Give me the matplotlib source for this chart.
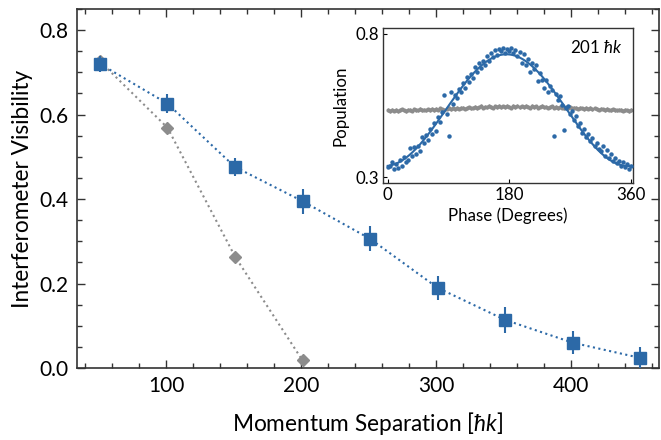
import numpy as np
import matplotlib
matplotlib.use('Agg')
import matplotlib.pyplot as plt

plt.rcParams['font.family'] = ['Lato', 'DejaVu Sans']
plt.rcParams['mathtext.fontset'] = 'custom'
plt.rcParams['mathtext.rm'] = 'Lato'
plt.rcParams['mathtext.it'] = 'Lato:italic'

blue = '#2c69a7'
grey = '#8c8c8c'

# main panel: visibility vs momentum separation
sep_blue = [51, 101, 151, 201, 251, 301, 351, 401, 451]
vis_blue = [0.720, 0.626, 0.476, 0.395, 0.306, 0.190, 0.114, 0.060, 0.024]
err_blue = [0.018, 0.022, 0.021, 0.030, 0.030, 0.028, 0.030, 0.027, 0.025]

sep_grey = [51, 101, 151, 201]
vis_grey = [0.726, 0.569, 0.264, 0.018]
err_grey = [0.012, 0.010, 0.006, 0.004]

# inset: population vs phase at 201 hbar k
phase = np.arange(0, 361, 3)
pop_blue = [0.335, 0.338, 0.352, 0.330, 0.345, 0.332, 0.360, 0.341, 0.372, 0.352,
            0.360, 0.402, 0.374, 0.405, 0.380, 0.410, 0.392, 0.440, 0.418, 0.446,
            0.430, 0.468, 0.452, 0.488, 0.462, 0.510, 0.492, 0.528, 0.586, 0.520,
            0.443, 0.598, 0.556, 0.586, 0.575, 0.608, 0.596, 0.628, 0.612, 0.648,
            0.632, 0.660, 0.645, 0.684, 0.666, 0.700, 0.680, 0.706, 0.690, 0.722,
            0.705, 0.735, 0.718, 0.745, 0.726, 0.748, 0.742, 0.752, 0.735, 0.748,
            0.741, 0.750, 0.734, 0.745, 0.722, 0.738, 0.700, 0.730, 0.690, 0.712,
            0.668, 0.700, 0.676, 0.690, 0.635, 0.662, 0.640, 0.612, 0.640, 0.598,
            0.620, 0.604, 0.444, 0.590, 0.570, 0.585, 0.552, 0.464, 0.540, 0.548,
            0.520, 0.532, 0.500, 0.512, 0.478, 0.488, 0.456, 0.470, 0.440, 0.452,
            0.425, 0.436, 0.410, 0.420, 0.400, 0.390, 0.408, 0.375, 0.395, 0.368,
            0.382, 0.358, 0.366, 0.350, 0.357, 0.340, 0.352, 0.335, 0.345, 0.330,
            0.338]
pop_grey = [0.534, 0.531, 0.536, 0.532, 0.535, 0.530, 0.534, 0.537, 0.533, 0.531,
            0.536, 0.534, 0.532, 0.537, 0.535, 0.533, 0.538, 0.534, 0.536, 0.533,
            0.537, 0.535, 0.539, 0.534, 0.538, 0.536, 0.540, 0.537, 0.535, 0.539,
            0.541, 0.537, 0.540, 0.538, 0.542, 0.539, 0.541, 0.543, 0.539, 0.542,
            0.544, 0.540, 0.543, 0.545, 0.541, 0.544, 0.548, 0.543, 0.546, 0.544,
            0.549, 0.545, 0.543, 0.547, 0.545, 0.549, 0.544, 0.547, 0.545, 0.548,
            0.546, 0.543, 0.548, 0.545, 0.550, 0.544, 0.547, 0.545, 0.549, 0.546,
            0.543, 0.548, 0.545, 0.547, 0.543, 0.546, 0.548, 0.544, 0.546, 0.543,
            0.545, 0.547, 0.543, 0.545, 0.542, 0.546, 0.543, 0.541, 0.544, 0.542,
            0.545, 0.540, 0.543, 0.541, 0.539, 0.542, 0.540, 0.538, 0.541, 0.539,
            0.541, 0.537, 0.540, 0.538, 0.536, 0.539, 0.537, 0.535, 0.538, 0.536,
            0.534, 0.537, 0.535, 0.533, 0.536, 0.534, 0.532, 0.535, 0.533, 0.531,
            0.534]

fig = plt.figure(figsize=(6.61, 4.40), dpi=100)
ax = fig.add_axes([0.1165, 0.1636, 0.8805, 0.8159])

ax.errorbar(sep_grey, vis_grey, yerr=err_grey, fmt='D', color=grey, ms=6,
            elinewidth=1.2, capsize=0, zorder=3)
ax.plot(sep_grey, vis_grey, ':', color=grey, lw=1.5, zorder=2)
ax.errorbar(sep_blue, vis_blue, yerr=err_blue, fmt='s', color=blue, ms=8,
            elinewidth=1.5, capsize=0, zorder=4)
ax.plot(sep_blue, vis_blue, ':', color=blue, lw=1.5, zorder=2)

ax.set_xlim(34, 465)
ax.set_ylim(0, 0.85)
ax.set_xticks([100, 200, 300, 400])
ax.set_xticks(np.arange(40, 461, 20), minor=True)
ax.set_yticks([0.0, 0.2, 0.4, 0.6, 0.8])
ax.set_yticks(np.arange(0, 0.851, 0.05), minor=True)
ax.set_yticklabels(['0.0', '0.2', '0.4', '0.6', '0.8'])
ax.tick_params(which='both', direction='in', top=True, right=True,
               labelsize=15, width=1.0, color='#333333')
ax.tick_params(which='major', length=5.5, pad=6)
ax.tick_params(which='minor', length=3.5)
for s in ax.spines.values():
    s.set_linewidth(1.2)
    s.set_color('#333333')
ax.set_xlabel(r'Momentum Separation [$\hbar k$]', fontsize=16.3, labelpad=10)
ax.set_ylabel('Interferometer Visibility', fontsize=16.3, labelpad=5)

# inset
ins = fig.add_axes([0.5794, 0.584, 0.3783, 0.352])
ins.errorbar(phase, pop_grey, yerr=0.006, fmt='o', color=grey, ms=2,
             elinewidth=0.8, capsize=0, zorder=2)
ins.plot(phase, pop_blue, 'o', color=blue, ms=2.2, zorder=3)

# cosine fit of the blue points
A = np.column_stack([np.ones(len(phase)), np.cos(np.radians(phase)),
                     np.sin(np.radians(phase))])
coef = np.linalg.lstsq(A, np.array(pop_blue), rcond=None)[0]
ph_fine = np.linspace(0, 360, 400)
fit = coef[0] + coef[1] * np.cos(np.radians(ph_fine)) + coef[2] * np.sin(np.radians(ph_fine))
ins.plot(ph_fine, fit, '-', color=blue, lw=1.5, zorder=4)

ins.set_xlim(-7, 363)
ins.set_ylim(0.28, 0.82)
ins.set_xticks([0, 180, 360])
ins.set_yticks([0.3, 0.8])
ins.set_yticklabels(['0.3', '0.8'])
ins.tick_params(direction='in', length=3, width=0.8, labelsize=12.2, pad=3)
for s in ins.spines.values():
    s.set_linewidth(1.0)
    s.set_color('#333333')
ins.set_xlabel('Phase (Degrees)', fontsize=12.2, labelpad=3)
ins.set_ylabel('Population', fontsize=12.2, labelpad=5)
ins.text(0.96, 0.93, r'201 $\hbar k$', transform=ins.transAxes, ha='right',
         va='top', fontsize=12.2)

fig.savefig('out.png', dpi=100)
